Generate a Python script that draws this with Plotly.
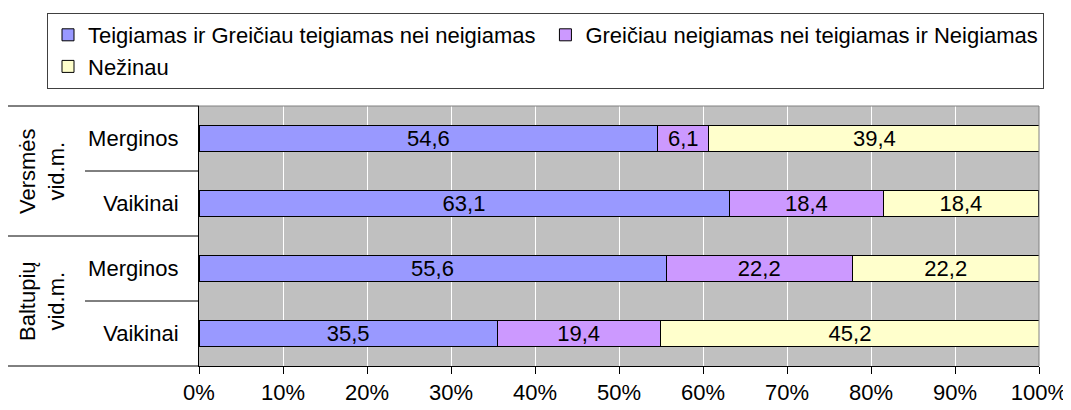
import plotly.graph_objects as go

# ---- data ----
row_keys = ["V_M", "V_V", "B_M", "B_V"]
row_labels = ["Merginos", "Vaikinai", "Merginos", "Vaikinai"]
groups = ["Versmės<br>vid.m.", "Baltupių<br>vid.m."]
series_names = [
    "Teigiamas ir Greičiau teigiamas nei neigiamas",
    "Greičiau neigiamas nei teigiamas ir Neigiamas",
    "Nežinau",
]
positive = [54.6, 63.1, 55.6, 35.5]
negative = [6.1, 18.4, 22.2, 19.4]
unknown = [39.4, 18.4, 22.2, 45.2]
colors = ["#9999FF", "#CC99FF", "#FFFFCC"]
x_ticks = [0, 10, 20, 30, 40, 50, 60, 70, 80, 90, 100]
x_tick_text = [f"{v}%" for v in x_ticks]

FONT = "Liberation Sans, Arial, sans-serif"
FS = 22

fig = go.Figure()
for name, vals, col in zip(series_names, [positive, negative, unknown], colors):
    fig.add_trace(go.Bar(
        y=row_keys, x=vals, name=name, orientation="h",
        marker=dict(color=col, line=dict(color="black", width=1)),
        texttemplate="%{x:.1f}", textposition="inside",
        insidetextanchor="middle", constraintext="none",
        textfont=dict(color="black", size=FS, family=FONT),
        hoverinfo="skip",
    ))

# page has an 8px body margin: work in page pixels, shift by OFF
OFF = 8
W, H = 1071 - OFF, 410 - OFF
L, R, T, B = 199 - OFF, 1039 - OFF, 106 - OFF, 366 - OFF

def px_x(px):
    return (px - OFF - L) / (R - L)

def px_y(py):
    return (B - (py - OFF)) / (B - T)

fig.update_layout(
    width=W, height=H,
    barmode="stack", bargap=0.6,
    separators=", ",
    paper_bgcolor="white", plot_bgcolor="#C0C0C0",
    margin=dict(l=L, r=W - R, t=T, b=H - B, pad=0, autoexpand=False),
    font=dict(family=FONT, size=FS, color="black"),
    legend=dict(
        orientation="h", xref="paper", yref="paper",
        x=px_x(47), xanchor="left", y=px_y(13), yanchor="top",
        bordercolor="#404040", borderwidth=1, bgcolor="white",
        font=dict(size=FS, family=FONT), traceorder="normal",
        itemclick=False, itemdoubleclick=False,
    ),
    xaxis=dict(
        range=[0, 100], tickvals=x_ticks, ticktext=x_tick_text,
        showgrid=True, gridcolor="white", gridwidth=1,
        showline=True, linecolor="black", linewidth=1,
        ticks="outside", ticklen=7, tickcolor="black", tickwidth=1,
        zeroline=False, fixedrange=True,
    ),
    yaxis=dict(
        categoryorder="array", categoryarray=row_keys,
        tickvals=row_keys, ticktext=row_labels,
        autorange="reversed",
        showgrid=False, showline=True, linecolor="black", linewidth=1,
        ticks="outside", ticklen=15, tickcolor="rgba(0,0,0,0)",
        zeroline=False, fixedrange=True,
    ),
)

# gray border top/right of plot area
fig.add_shape(type="line", xref="paper", yref="paper", x0=0, x1=1, y0=1, y1=1,
              line=dict(color="#808080", width=1))
fig.add_shape(type="line", xref="paper", yref="paper", x0=1, x1=1, y0=0, y1=1,
              line=dict(color="#808080", width=1))

# category dividers on the left
for py, x0 in [(106, 8), (236, 8), (366, 8), (171, 85), (301, 85)]:
    fig.add_shape(type="line", xref="paper", yref="paper",
                  x0=px_x(x0), x1=0, y0=px_y(py), y1=px_y(py),
                  line=dict(color="black", width=1))

for g, cy in zip(groups, [171, 301]):
    fig.add_annotation(text=g, xref="paper", yref="paper",
                       x=px_x(42), y=px_y(cy), textangle=-90,
                       showarrow=False, font=dict(size=FS, family=FONT),
                       xanchor="center", yanchor="middle")

fig.write_html("out.html")
